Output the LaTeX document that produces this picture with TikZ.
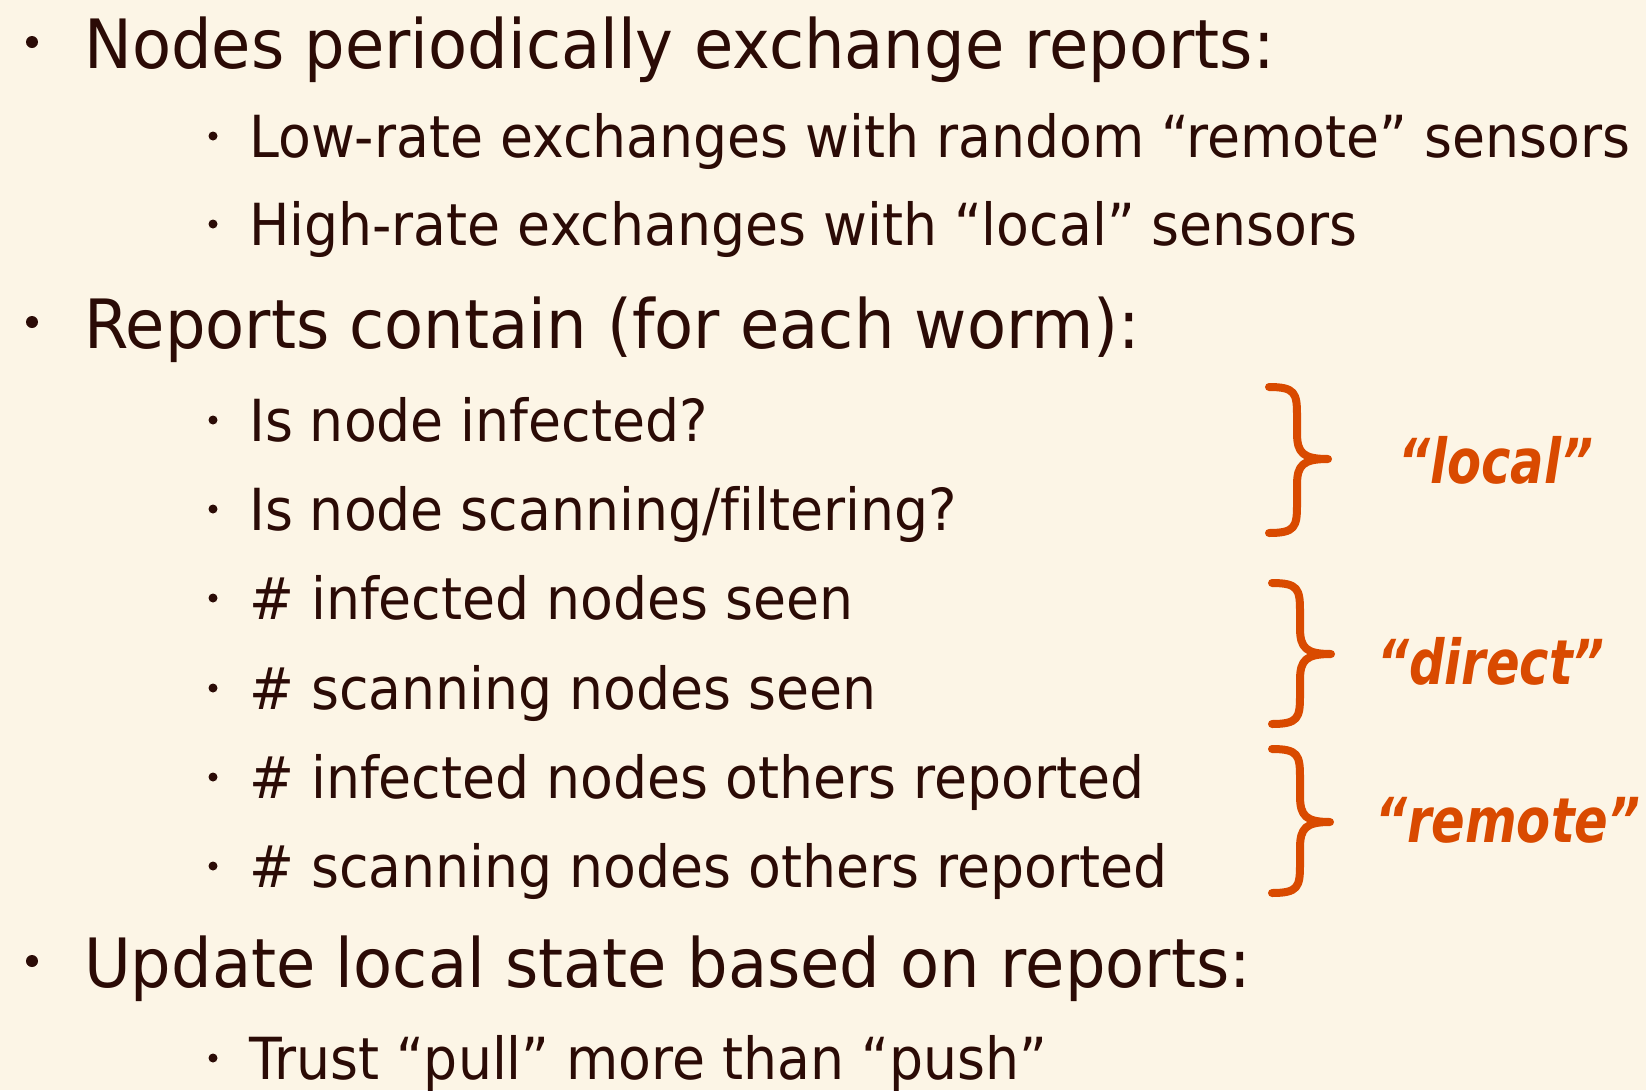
\documentclass[tikz,border=0pt]{standalone}
\usepackage{fontspec}
\setmainfont[Ligatures={NoCommon}]{DejaVu Sans}
\newfontfamily\mainfam[FakeStretch=0.94,Ligatures={NoCommon}]{DejaVu Sans}
\newfontfamily\subfam[FakeStretch=0.925,Ligatures={NoCommon}]{DejaVu Sans}
\newfontfamily\lblfam[FakeStretch=0.8]{DejaVu Sans}
\definecolor{bgc}{HTML}{FCF5E6}
\definecolor{txc}{HTML}{2B0B06}
\definecolor{orc}{HTML}{D94A00}
\tikzset{
  mainitem/.style={anchor=base west, inner sep=0pt, text=txc, font=\mainfam\fontsize{68}{80}\selectfont},
  subitem/.style={anchor=base west, inner sep=0pt, text=txc, font=\subfam\fontsize{58}{70}\selectfont},
  dotm/.style={circle, fill=txc, inner sep=0pt, minimum size=12pt},
  dots/.style={circle, fill=txc, inner sep=0pt, minimum size=9pt},
  bracelbl/.style={anchor=base west, inner sep=0pt, text=orc, font=\lblfam\fontsize{62}{70}\selectfont\bfseries\itshape},
  bracepath/.style={draw=orc, line width=8pt, line cap=round, line join=round}
}
\newcommand{\mybrace}[6]{% L S T Y1 Ym Y2
  \draw[bracepath] (#1,#4) .. controls (#2-2,#4) and (#2,#4+6) .. (#2,#4+28) -- (#2,#5-26)
     .. controls (#2,#5-6) and (#2+6,#5) .. (#3,#5)
   (#3,#5) .. controls (#2+6,#5) and (#2,#5+6) .. (#2,#5+26) -- (#2,#6-28)
     .. controls (#2,#6-6) and (#2-2,#6) .. (#1,#6);}
\begin{document}
\begin{tikzpicture}[x=1pt,y=-1pt]
\fill[bgc] (0,0) rectangle (1646,1090);
\useasboundingbox (0,0) rectangle (1646,1090);
% main items
\node[dotm] (b1) at (32,42) {};
\node[mainitem] (t1) at (84,68) {Nodes periodically exchange reports:};
\node[dots] (b11) at (213,136) {};
\node[subitem] (t11) at (249,157) {Low-rate exchanges with random “remote” sensors};
\node[dots] (b12) at (213,224) {};
\node[subitem] (t12) at (249,245) {High-rate exchanges with “local” sensors};
\node[dotm] (b2) at (32,322) {};
\node[mainitem] (t2) at (84,348) {Reports contain (for each worm):};
\node[dots] (b21) at (213,420) {};
\node[subitem] (t21) at (249,441) {Is node infected?};
\node[dots] (b22) at (213,509) {};
\node[subitem] (t22) at (249,530) {Is node scanning/filtering?};
\node[dots] (b23) at (213,598) {};
\node[subitem] (t23) at (249,619) {\# infected nodes seen};
\node[dots] (b24) at (213,688) {};
\node[subitem] (t24) at (249,709) {\# scanning nodes seen};
\node[dots] (b25) at (213,777) {};
\node[subitem] (t25) at (249,798) {\# infected nodes others reported};
\node[dots] (b26) at (213,866) {};
\node[subitem] (t26) at (249,887) {\# scanning nodes others reported};
\node[dotm] (b3) at (32,961) {};
\node[mainitem] (t3) at (84,987) {Update local state based on reports:};
\node[dots] (b31) at (213,1058) {};
\node[subitem] (t31) at (249,1079) {Trust “pull” more than “push”};
% braces
\mybrace{1269}{1297}{1328}{387}{459}{533}
\mybrace{1272}{1300}{1331}{583}{654}{724}
\mybrace{1272}{1300}{1330}{749}{822}{893}
\node[bracelbl] (l1) at (1398,483) {“local”};
\node[bracelbl] (l2) at (1377,684) {“direct”};
\node[bracelbl] (l3) at (1375,842) {“remote”};
\end{tikzpicture}
\end{document}
